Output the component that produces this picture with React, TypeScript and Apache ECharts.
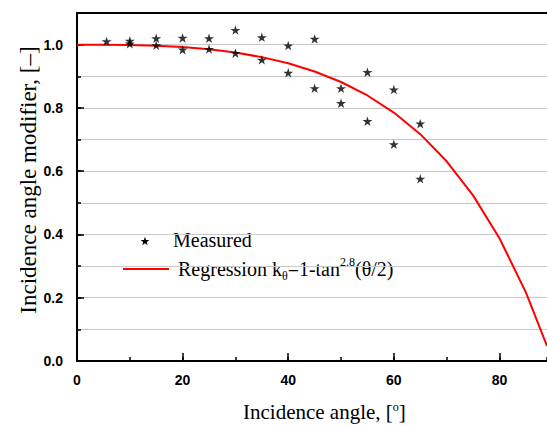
import React, { useEffect, useRef } from "react";
import * as echarts from "echarts";

// Measured incidence-angle modifier (two runs per angle)
const measuredAngles = [5.6, 10, 10, 15, 15, 20, 20, 25, 25, 30, 30, 35, 35, 40, 40, 45, 45, 50, 50, 55, 55, 60, 60, 65, 65];
const measuredValues = [1.01, 1.012, 1.003, 1.02, 0.998, 1.021, 0.984, 1.02, 0.986, 1.046, 0.973, 1.023, 0.952, 0.997, 0.911, 1.018, 0.862, 0.862, 0.815, 0.913, 0.758, 0.858, 0.685, 0.75, 0.576];

// Regression curve k = 1 - tan^2.8(θ/2), tabulated values
const regressionAngles = [0, 5, 10, 15, 20, 25, 30, 35, 40, 45, 50, 55, 60, 65, 70, 75, 80, 85, 89];
const regressionValues = [1.0, 0.9998, 0.9989, 0.9966, 0.9922, 0.9853, 0.975, 0.9605, 0.941, 0.9152, 0.8819, 0.8393, 0.7852, 0.717, 0.6313, 0.5236, 0.3881, 0.217, 0.0477];

const xTickLabels = [0, 20, 40, 60, 80];
const yTickLabels = [0, 0.2, 0.4, 0.6, 0.8, 1.0];

const STAR_D =
  "M100 0 L122.45 69.1 L195.1 69.1 L136.3 111.8 L158.8 180.9 L100 138.2 L41.2 180.9 L63.7 111.8 L4.9 69.1 L77.55 69.1 Z";
const STAR = "path://" + STAR_D;

echarts.graphic.registerShape("legendStar", echarts.graphic.extendPath(STAR_D, {}));

const SERIF = "Liberation Serif";
const SANS = "Liberation Sans";

export default function App() {
  const ref = useRef<HTMLDivElement>(null);
  useEffect(() => {
    if (!ref.current) return;
    const chart = echarts.init(ref.current, undefined, { renderer: "svg" });
    const scatterData = measuredAngles.map((x, i) => [x, measuredValues[i]]);
    const lineData = regressionAngles.map((x, i) => [x, regressionValues[i]]);
    const black = "#000";
    const supStyle = { fontFamily: SERIF, fontSize: 12, verticalAlign: "top", lineHeight: 12, fill: black };
    const subStyle = { fontFamily: SERIF, fontSize: 12, verticalAlign: "bottom", lineHeight: 12, fill: black };
    const s = 9 / 190;
    chart.setOption({
      animation: false,
      backgroundColor: "#fff",
      grid: { left: 77, right: 0, top: 13, bottom: 65, containLabel: false },
      graphic: [
        {
          type: "legendStar",
          x: 145 - 100 * s,
          y: 241 - 92 * s,
          scaleX: s,
          scaleY: s,
          style: { fill: black },
        },
        {
          type: "text",
          x: 173,
          y: 240,
          style: { text: "Measured", fontFamily: SERIF, fontSize: 20, fill: black, verticalAlign: "middle", align: "left" },
        },
        {
          type: "line",
          shape: { x1: 123, y1: 269, x2: 169, y2: 269 },
          style: { stroke: "#ff0000", lineWidth: 2 },
        },
        {
          type: "text",
          x: 178,
          y: 269,
          style: {
            text: "Regression k{sub|θ}=1-tan{sup|2.8}(θ/2)",
            fontFamily: SERIF,
            fontSize: 20,
            lineHeight: 26,
            fill: black,
            verticalAlign: "middle",
            align: "left",
            rich: { sub: subStyle, sup: supStyle },
          },
        },
        {
          type: "text",
          x: 243,
          y: 412,
          style: {
            text: "Incidence angle, [{sup|o}]",
            fontFamily: SERIF,
            fontSize: 21,
            lineHeight: 23,
            fill: black,
            verticalAlign: "middle",
            align: "left",
            rich: { sup: supStyle },
          },
        },
        {
          type: "text",
          x: 28,
          y: 180,
          rotation: Math.PI / 2,
          style: {
            text: "Incidence angle modifier, [–]",
            fontFamily: SERIF,
            fontSize: 23,
            fill: black,
            verticalAlign: "middle",
            align: "center",
          },
        },
      ],
      xAxis: [
        {
          type: "value",
          min: 0,
          max: 89,
          interval: 20,
          position: "bottom",
          axisLine: { show: true, onZero: false, lineStyle: { color: black, width: 2 } },
          axisTick: { show: true, inside: true, length: 8, lineStyle: { color: black, width: 1.5 } },
          axisLabel: {
            show: true,
            margin: 12,
            fontFamily: SANS,
            fontWeight: "bold",
            fontSize: 14,
            color: black,
            showMaxLabel: false,
            formatter: (v: number) => (xTickLabels.includes(Math.round(v)) ? String(Math.round(v)) : ""),
          },
          splitLine: { show: false },
        },
        {
          type: "value",
          min: 0,
          max: 89,
          interval: 10,
          position: "bottom",
          axisLine: { show: false },
          axisTick: { show: true, inside: true, length: 4, lineStyle: { color: black, width: 1.5 } },
          axisLabel: { show: false },
          splitLine: { show: false },
        },
        {
          type: "value",
          min: 0,
          max: 89,
          position: "top",
          axisLine: { show: true, onZero: false, lineStyle: { color: black, width: 2 } },
          axisTick: { show: false },
          axisLabel: { show: false },
          splitLine: { show: false },
        },
      ],
      yAxis: [
        {
          type: "value",
          min: 0,
          max: 1.1,
          interval: 0.2,
          position: "left",
          axisLine: { show: true, onZero: false, lineStyle: { color: black, width: 2 } },
          axisTick: { show: true, inside: true, length: 7, lineStyle: { color: black, width: 1.5 } },
          axisLabel: {
            margin: 14,
            fontFamily: SANS,
            fontWeight: "bold",
            fontSize: 14,
            color: black,
            showMaxLabel: false,
            formatter: (v: number) => {
              const hit = yTickLabels.find((t) => Math.abs(t - v) < 1e-6);
              return hit === undefined ? "" : hit.toFixed(1);
            },
          },
          splitLine: { show: false },
        },
        {
          type: "value",
          min: 0,
          max: 1.1,
          interval: 0.1,
          position: "left",
          axisLine: { show: false },
          axisTick: { show: true, inside: true, length: 4, lineStyle: { color: black, width: 1.5 } },
          axisLabel: { show: false },
          splitLine: { show: true, lineStyle: { color: "#c8c8c8", width: 1 } },
        },
      ],
      series: [
        {
          name: "Regression",
          type: "line",
          xAxisIndex: 0,
          yAxisIndex: 0,
          data: lineData,
          showSymbol: false,
          symbol: "none",
          lineStyle: { color: "#ff0000", width: 2 },
          itemStyle: { color: "#ff0000" },
          z: 3,
        },
        {
          name: "Measured",
          type: "scatter",
          xAxisIndex: 0,
          yAxisIndex: 0,
          data: scatterData,
          symbol: STAR,
          symbolKeepAspect: true,
          symbolSize: 10,
          itemStyle: { color: black },
          z: 4,
        },
      ],
    });
    return () => chart.dispose();
  }, []);
  return (
    <div
      ref={ref}
      style={{ position: "absolute", left: 0, top: 0, width: 547, height: 426 }}
    />
  );
}
